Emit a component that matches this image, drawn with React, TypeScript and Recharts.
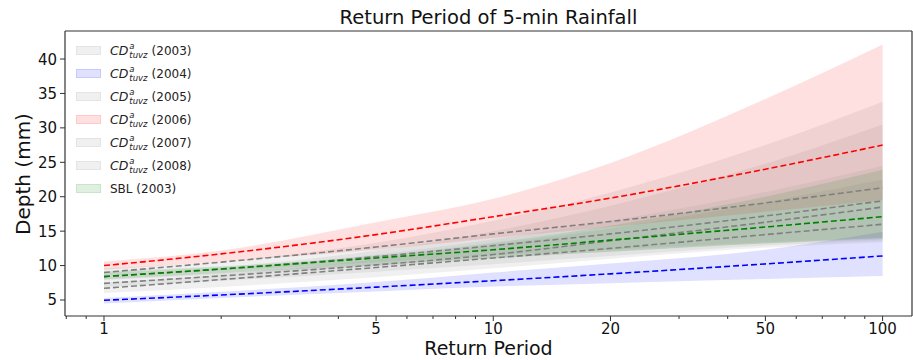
import React from "react";
import { Area, ComposedChart, Line, ReferenceLine, XAxis, YAxis } from "recharts";

// Return periods (years) on the log x-axis
const returnPeriods = [1, 2, 5, 10, 20, 50, 100];

// CD^a_tuvz (2003) — gray
const cd2003Mean = [8.4, 9.5, 11.3, 12.9, 14.6, 17.2, 19.4];
const cd2003Low = [7.9, 8.7, 9.9, 11.0, 12.0, 13.2, 13.8];
const cd2003High = [9.0, 9.8, 12.2, 15.0, 18.7, 24.8, 30.5];

// CD^a_tuvz (2004) — blue
const cd2004Mean = [4.96, 5.73, 6.87, 7.8, 8.8, 10.24, 11.4];
const cd2004Low = [4.5, 5.3, 6.25, 6.95, 7.45, 8.05, 8.5];
const cd2004High = [5.3, 6.2, 7.6, 9.0, 10.3, 12.3, 14.9];

// CD^a_tuvz (2005) — gray
const cd2005Mean = [9.0, 10.5, 12.7, 14.6, 16.4, 19.1, 21.3];
const cd2005Low = [8.4, 9.3, 10.5, 11.5, 12.3, 13.4, 14.0];
const cd2005High = [9.6, 10.6, 13.3, 16.5, 20.6, 27.5, 33.8];

// CD^a_tuvz (2006) — red
const cd2006Mean = [10.0, 11.7, 14.5, 17.1, 19.8, 24.0, 27.5];
const cd2006Low = [9.4, 10.6, 12.3, 14.0, 15.6, 17.8, 19.5];
const cd2006High = [10.6, 12.2, 16.3, 19.7, 24.9, 34.2, 42.1];

// CD^a_tuvz (2007) — gray
const cd2007Mean = [7.42, 8.5, 10.1, 11.6, 13.6, 16.3, 18.5];
const cd2007Low = [6.9, 7.8, 9.1, 10.2, 11.4, 12.9, 13.6];
const cd2007High = [8.3, 9.4, 11.6, 13.8, 16.5, 20.7, 24.5];

// CD^a_tuvz (2008) — gray
const cd2008Mean = [6.7, 7.97, 9.72, 11.1, 12.5, 14.5, 16.0];
const cd2008Low = [6.0, 6.9, 8.3, 9.6, 11.0, 12.6, 13.4];
const cd2008High = [7.5, 8.7, 10.9, 13.0, 15.4, 19.2, 22.5];

// SBL (2003) — green
const sblMean = [8.4, 9.5, 11.1, 12.3, 13.7, 15.6, 17.1];
const sblLow = [8.0, 8.9, 10.1, 11.1, 12.0, 13.2, 14.0];
const sblHigh = [9.2, 9.9, 11.4, 13.3, 15.8, 20.0, 23.9];

const xMajorTicks = [1, 5, 10, 20, 50, 100];
const xMinorTicks = [0.8, 0.9, 2, 3, 4, 6, 7, 8, 9, 30, 40, 60, 70, 80, 90];
const yTicks = [5, 10, 15, 20, 25, 30, 35, 40];

const FONT = "'DejaVu Sans', sans-serif";
const SPINE = "#333";

const series = [
  { key: "cd2003", year: "2003", cd: true, color: "#808080", mean: cd2003Mean, low: cd2003Low, high: cd2003High },
  { key: "cd2004", year: "2004", cd: true, color: "#0000ff", mean: cd2004Mean, low: cd2004Low, high: cd2004High },
  { key: "cd2005", year: "2005", cd: true, color: "#808080", mean: cd2005Mean, low: cd2005Low, high: cd2005High },
  { key: "cd2006", year: "2006", cd: true, color: "#ff0000", mean: cd2006Mean, low: cd2006Low, high: cd2006High },
  { key: "cd2007", year: "2007", cd: true, color: "#808080", mean: cd2007Mean, low: cd2007Low, high: cd2007High },
  { key: "cd2008", year: "2008", cd: true, color: "#808080", mean: cd2008Mean, low: cd2008Low, high: cd2008High },
  { key: "sbl", year: "2003", cd: false, color: "#008000", mean: sblMean, low: sblLow, high: sblHigh },
];

const rows = returnPeriods.map((t, i) => {
  const row: Record<string, number | number[]> = { t };
  for (const s of series) {
    row[s.key] = s.mean[i];
    row[`${s.key}Band`] = [s.low[i], s.high[i]];
  }
  return row;
});

function hexToRgba(hex: string, a: number) {
  const n = parseInt(hex.slice(1), 16);
  return `rgba(${(n >> 16) & 255}, ${(n >> 8) & 255}, ${n & 255}, ${a})`;
}

function XTick(props: any) {
  const { x, y, payload } = props;
  const major = xMajorTicks.includes(payload.value);
  return (
    <g>
      <line x1={x} x2={x} y1={y} y2={y + (major ? 5 : 3)} stroke={SPINE} strokeWidth={1} />
      {major && (
        <text x={x} y={y + 17.5} textAnchor="middle" fontSize={15} fontFamily={FONT} fill="#111">
          {payload.value}
        </text>
      )}
    </g>
  );
}

function YTick(props: any) {
  const { x, y, payload } = props;
  return (
    <g>
      <line x1={x - 5} x2={x} y1={y} y2={y} stroke={SPINE} strokeWidth={1} />
      <text x={x - 8} y={y + 5.5} textAnchor="end" fontSize={15} fontFamily={FONT} fill="#111">
        {payload.value}
      </text>
    </g>
  );
}

// CD with stacked super/subscript, like mathtext $CD^a_{tuvz}$
function LegendLabel({ cd, year }: { cd: boolean; year: string }) {
  if (!cd) return <span>SBL ({year})</span>;
  return (
    <span style={{ display: "inline-flex", alignItems: "center" }}>
      <span style={{ fontStyle: "italic", fontSize: 12.5 }}>CD</span>
      <span
        style={{
          display: "inline-flex",
          flexDirection: "column",
          fontStyle: "italic",
          fontSize: 8.5,
          lineHeight: "9px",
          marginLeft: 1,
          marginTop: 1,
        }}
      >
        <span>a</span>
        <span>tuvz</span>
      </span>
      <span style={{ marginLeft: 4 }}>({year})</span>
    </span>
  );
}

export default function App() {
  return (
    <div style={{ position: "absolute", left: 0, top: 0, width: 913, height: 360, background: "#fff", fontFamily: FONT, overflow: "hidden" }}>
      <ComposedChart width={913} height={360} data={rows} margin={{ top: 31, right: 1, bottom: 0, left: 0 }}>
        <XAxis
          dataKey="t"
          type="number"
          scale="log"
          domain={[0.794, 119]}
          allowDataOverflow
          ticks={[...xMajorTicks, ...xMinorTicks].sort((a, b) => a - b)}
          interval={0}
          tickSize={0}
          tickMargin={0}
          tickLine={false}
          tick={<XTick />}
          height={44}
          axisLine={{ stroke: SPINE, strokeWidth: 1.2 }}
        />
        <YAxis
          type="number"
          domain={[2.676, 44.07]}
          allowDataOverflow
          ticks={yTicks}
          interval={0}
          tickSize={0}
          tickMargin={0}
          tickLine={false}
          tick={<YTick />}
          width={65}
          axisLine={{ stroke: SPINE, strokeWidth: 1.2 }}
        />
        <ReferenceLine y={44.07} stroke={SPINE} strokeWidth={1.2} ifOverflow="extendDomain" />
        <ReferenceLine x={119} stroke={SPINE} strokeWidth={1.2} ifOverflow="extendDomain" />
        {series.map((s) => (
          <Area
            key={`${s.key}Band`}
            dataKey={`${s.key}Band`}
            type="monotone"
            fill={s.color}
            fillOpacity={0.12}
            stroke="none"
            isAnimationActive={false}
            activeDot={false}
          />
        ))}
        {series.map((s) => (
          <Line
            key={s.key}
            dataKey={s.key}
            type="monotone"
            stroke={s.color}
            strokeWidth={1.6}
            strokeDasharray="6 3"
            dot={false}
            activeDot={false}
            isAnimationActive={false}
          />
        ))}
      </ComposedChart>

      {/* title + axis labels */}
      <div style={{ position: "absolute", left: 65, width: 847, top: 7, textAlign: "center", fontSize: 19.5, lineHeight: "22px", color: "#111" }}>
        Return Period of 5-min Rainfall
      </div>
      <div style={{ position: "absolute", left: 65, width: 847, top: 338, textAlign: "center", fontSize: 19, lineHeight: "21px", color: "#111" }}>
        Return Period
      </div>
      <div
        style={{
          position: "absolute",
          left: 23,
          top: 174,
          transform: "translate(-50%, -50%) rotate(-90deg)",
          fontSize: 20,
          lineHeight: "22px",
          whiteSpace: "nowrap",
          color: "#111",
        }}
      >
        Depth (mm)
      </div>

      {/* legend */}
      <div style={{ position: "absolute", left: 76, top: 39, fontSize: 12, color: "#222" }}>
        {series.map((s) => (
          <div key={s.key} style={{ display: "flex", alignItems: "center", height: 23 }}>
            <span
              style={{
                display: "inline-block",
                width: 25,
                height: 9,
                background: hexToRgba(s.color, 0.12),
                border: `1px solid ${hexToRgba(s.color, 0.1)}`,
                boxSizing: "border-box",
                marginRight: 9,
              }}
            />
            <LegendLabel cd={s.cd} year={s.year} />
          </div>
        ))}
      </div>
    </div>
  );
}
